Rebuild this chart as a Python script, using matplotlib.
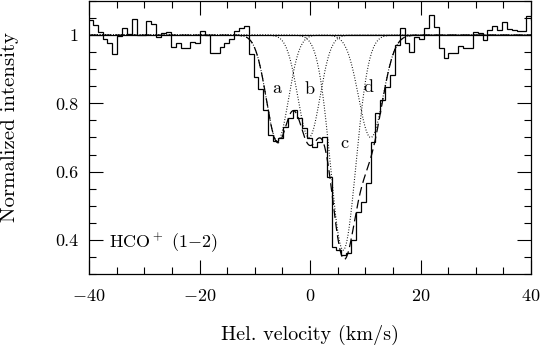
import numpy as np
import matplotlib
matplotlib.use("Agg")
import matplotlib.pyplot as plt
from matplotlib.ticker import MultipleLocator, FixedLocator, FixedFormatter

plt.rcParams['font.family'] = ['cmr10', 'DejaVu Serif']
plt.rcParams['mathtext.fontset'] = 'cm'
plt.rcParams['axes.unicode_minus'] = False

# ---- data ----
first_edge = -40.18      # km/s, left edge of first channel
chan_width = 0.8816      # km/s
intensity = [1.044, 1.029, 1.010, 0.990, 0.976, 0.944, 0.998, 1.020, 1.003, 1.046,
             1.000, 1.000, 1.042, 1.034, 0.995, 1.005, 1.010, 0.966, 0.976, 0.961,
             0.961, 0.979, 0.978, 1.012, 1.000, 0.947, 0.947, 0.964, 0.976, 0.988,
             1.012, 1.020, 1.026, 0.946, 0.878, 0.841, 0.780, 0.707, 0.690, 0.700,
             0.732, 0.756, 0.780, 0.756, 0.727, 0.698, 0.673, 0.688, 0.702, 0.585,
             0.379, 0.370, 0.356, 0.362, 0.400, 0.483, 0.512, 0.566, 0.688, 0.771,
             0.810, 0.849, 0.883, 0.970, 1.021, 0.976, 0.951, 0.995, 0.990, 1.020,
             1.059, 1.024, 0.961, 0.932, 0.949, 0.949, 0.969, 0.963, 0.963, 1.008,
             1.005, 0.985, 1.015, 1.027, 1.015, 1.039, 1.018, 1.015, 1.012, 1.012,
             1.057, 1.044]

comp_names   = ['a', 'b', 'c', 'd']
comp_centers = [-5.9, -0.2, 6.0, 11.0]
comp_depths  = [0.31, 0.30, 0.63, 0.30]
comp_sigmas  = [2.0, 2.0, 2.3, 2.2]
label_pos_v  = [-6.1, -0.05, 6.3, 10.6]
label_pos_i  = [0.844, 0.840, 0.683, 0.847]

x_ticks = [-40, -20, 0, 20, 40]
x_tick_labels = ['$-40$', '$-20$', '$0$', '$20$', '$40$']
y_ticks = [0.4, 0.6, 0.8, 1.0]
y_tick_labels = ['0.4', '0.6', '0.8', '1']

line_name = 'HCO$^+$ (1$-$2)'
xlabel = 'Hel. velocity (km/s)'
ylabel = 'Normalized intensity'

# ---- figure ----
fig = plt.figure(figsize=(5.45, 3.46), dpi=100)
ax = fig.add_axes([89/545, 72/346, 442/545, 273/346])

edges = first_edge + chan_width * np.arange(len(intensity) + 1)
ax.stairs(intensity, edges, baseline=None, color='black', lw=0.9)

ax.axhline(1.0, color='black', lw=0.9)

v = np.linspace(-40, 40, 1600)
total = np.ones_like(v)
for c, a, s in zip(comp_centers, comp_depths, comp_sigmas):
    g = a * np.exp(-0.5 * ((v - c) / s) ** 2)
    total -= g
    ax.plot(v, 1 - g, color='black', lw=0.8, linestyle=(0, (0.8, 1.6)))
ax.plot(v, total, color='black', lw=0.9, linestyle=(0, (7, 3.5)))

for n, xv, yv in zip(comp_names, label_pos_v, label_pos_i):
    ax.text(xv, yv, n, ha='center', va='center', fontsize=13)

ax.text(-36.3, 0.391, line_name, ha='left', va='center', fontsize=13)

ax.set_xlim(-40, 40)
ax.set_ylim(0.3, 1.1)
ax.xaxis.set_major_locator(FixedLocator(x_ticks))
ax.xaxis.set_major_formatter(FixedFormatter(x_tick_labels))
ax.xaxis.set_minor_locator(MultipleLocator(5))
ax.yaxis.set_major_locator(FixedLocator(y_ticks))
ax.yaxis.set_major_formatter(FixedFormatter(y_tick_labels))
ax.yaxis.set_minor_locator(MultipleLocator(0.05))

ax.tick_params(which='both', direction='in', top=True, right=True, width=0.8)
ax.tick_params(which='major', length=10, labelsize=13)
ax.tick_params(which='minor', length=5)
ax.tick_params(axis='x', which='major', pad=10)
ax.tick_params(axis='y', which='major', pad=8)
for sp in ax.spines.values():
    sp.set_linewidth(0.9)

ax.set_xlabel(xlabel, fontsize=14.5)
ax.set_ylabel(ylabel, fontsize=15, va='center')
ax.xaxis.set_label_coords(0.5, -0.224)
ax.xaxis.label.set_va('center')
ax.yaxis.set_label_coords(-0.179, 0.54)

fig.savefig('out.png', dpi=100)
